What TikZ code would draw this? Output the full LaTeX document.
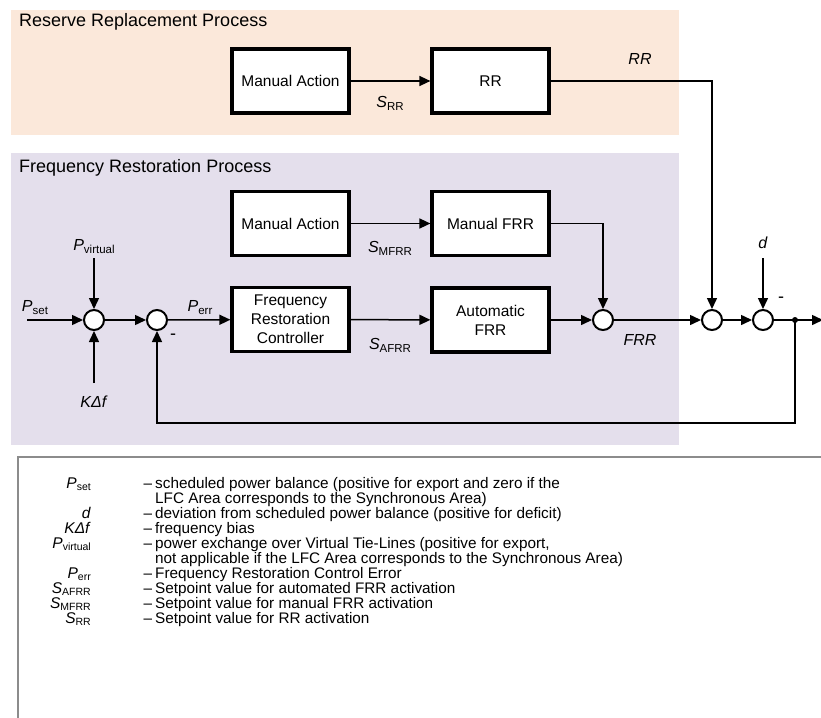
\documentclass[tikz,border=0pt]{standalone}
\usepackage{fontspec}
\setmainfont{Liberation Sans}
\usetikzlibrary{arrows.meta,calc}
\definecolor{rrbg}{RGB}{251,232,218}
\definecolor{frbg}{RGB}{228,223,236}
\definecolor{legbd}{RGB}{140,140,140}
\newcommand{\Sb}[1]{\raisebox{-3pt}{\fontsize{11.5}{12}\selectfont #1}}
\newcommand{\Lb}[1]{\raisebox{-2pt}{\fontsize{10.5}{11}\selectfont #1}}
\begin{document}
\begin{tikzpicture}[x=1pt,y=-1pt,
  blk/.style={draw=black,line width=3.2pt,fill=white,minimum width=117pt,minimum height=64pt,inner sep=2pt,align=center,font=\fontsize{15.5}{18.8}\selectfont},
  sumc/.style={circle,draw=black,line width=2pt,fill=white,minimum size=20pt,inner sep=0pt},
  conn/.style={line width=1.5pt,-{Triangle[length=11pt,width=10pt]}},
  plain/.style={line width=1.5pt},
  lbl/.style={inner sep=0pt,font=\fontsize{16}{18}\selectfont},
  ttl/.style={inner sep=0pt,anchor=base west,font=\fontsize{18}{20}\selectfont},
  legsym/.style={inner sep=0pt,anchor=base east,font=\fontsize{15.5}{16}\selectfont},
  legdash/.style={inner sep=0pt,anchor=base,font=\fontsize{15.3}{16}\selectfont},
  legtxt/.style={inner sep=0pt,anchor=base west,font=\fontsize{15.3}{16}\selectfont}]
\useasboundingbox (0,0) rectangle (821,717);
\clip (0,0) rectangle (821,717);
\fill[white] (0,0) rectangle (821,717);
% backgrounds
\fill[rrbg] (11,10) rectangle (679,135);
\fill[frbg] (11,153) rectangle (679,445);
\node[ttl] (t1) at (19,27) {Reserve Replacement Process};
\node[ttl] (t2) at (19,172) {Frequency Restoration Process};
% blocks
\node[blk] (ma1) at (290.5,81) {Manual Action};
\node[blk] (rr) at (490.5,81) {RR};
\node[blk] (ma2) at (290.5,223.5) {Manual Action};
\node[blk] (mfrr) at (490.5,223.5) {Manual FRR};
\node[blk] (frc) at (290.5,319.5) {Frequency\\Restoration\\Controller};
\node[blk] (afrr) at (490.5,320) {Automatic\\FRR};
% summing junctions
\node[sumc] (c1) at (94,320) {};
\node[sumc] (c2) at (157,320) {};
\node[sumc] (c3) at (603,320) {};
\node[sumc] (c4) at (712,320) {};
\node[sumc] (c5) at (763,320) {};
\fill (795,320) circle (3pt);
\coordinate (dot) at (795,320);
\coordinate (pin) at (27,320);
\coordinate (pvin) at (94,258);
\coordinate (kin) at (94,383);
\coordinate (din) at (763,258);
\coordinate (fb) at (795,423);
\coordinate (out) at (823,320);
% connectors
\draw[conn] (ma1) -- (rr);
\draw[conn] (ma2) -- (mfrr);
\draw[conn] (pin) -- (c1);
\draw[conn] (pvin) -- (c1);
\draw[conn] (kin) -- (c1);
\draw[conn] (c1) -- (c2);
\draw[conn] (c2) -- (frc);
\draw[conn] (frc) -- (afrr);
\draw[conn] (afrr) -- (c3);
\draw[conn] (mfrr.east) -| (c3);
\draw[conn] (c3) -- (c4);
\draw[conn] (rr.east) -| (c4);
\draw[conn] (c4) -- (c5);
\draw[conn] (din) -- (c5);
\draw[plain] (c5) -- (dot);
\draw[conn] (dot) -- (out);
\draw[conn] (dot) -- (fb) -| (c2);
% labels
\node[lbl] (lpv) at (94,247) {\textit{P}\Sb{virtual}};
\node[lbl] (lps) at (35,308) {\textit{P}\Sb{set}};
\node[lbl] (lk) at (94,402) {\textit{KΔf}};
\node[lbl] (lpe) at (200,308) {\textit{P}\Sb{err}};
\node[lbl,font=\fontsize{18}{18}\selectfont] (lm2) at (173,337) {-};
\node[lbl] (lsm) at (390,248) {\textit{S}\Sb{MFRR}};
\node[lbl] (lsa) at (390,345) {\textit{S}\Sb{AFRR}};
\node[lbl] (lsr) at (390,103) {\textit{S}\Sb{RR}};
\node[lbl] (lrr) at (640,59) {\textit{RR}};
\node[lbl] (lfrr) at (640,340) {\textit{FRR}};
\node[lbl] (ld) at (763,243) {\textit{d}};
\node[lbl,font=\fontsize{18}{18}\selectfont] (lm5) at (781,300) {-};
% legend
\draw[legbd,line width=1.5pt] (830,457) -- (18,457) -- (18,730);
\foreach \yy/\ss/\tt [count=\i] in {
  488/{\textit{P}\Lb{set}}/{scheduled power balance (positive for export and zero if the},
  503.1/{}/{LFC Area corresponds to the Synchronous Area)},
  518.2/{\textit{d}}/{deviation from scheduled power balance (positive for deficit)},
  533.3/{\textit{KΔf}}/{frequency bias},
  548.4/{\textit{P}\Lb{virtual}}/{power exchange over Virtual Tie-Lines (positive for export,},
  563.5/{}/{not applicable if the LFC Area corresponds to the Synchronous Area)},
  578.6/{\textit{P}\Lb{err}}/{Frequency Restoration Control Error},
  593.7/{\textit{S}\Lb{AFRR}}/{Setpoint value for automated FRR activation},
  608.8/{\textit{S}\Lb{MFRR}}/{Setpoint value for manual FRR activation},
  623.9/{\textit{S}\Lb{RR}}/{Setpoint value for RR activation}} {
  \node[legsym] (ls\i) at (91,\yy) {\ss};
  \node[legtxt] (lt\i) at (155,\yy) {\tt};
}
\foreach \yy [count=\i] in {488,518.2,533.3,548.4,578.6,593.7,608.8,623.9} {
  \node[legdash] (ldash\i) at (148,\yy) {–};
}
\end{tikzpicture}
\end{document}
